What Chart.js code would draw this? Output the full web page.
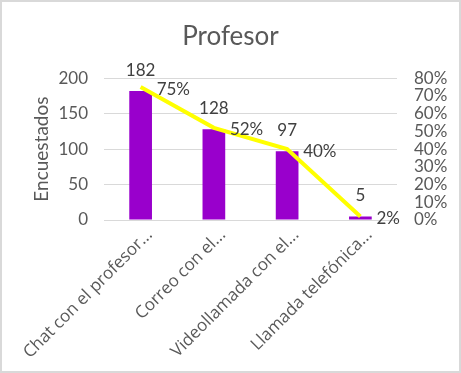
<!DOCTYPE html>
<html>
<head>
<meta charset="utf-8">
<script src="https://cdn.jsdelivr.net/npm/chart.js@4"></script>
<style>
  html, body { margin: 0; padding: 0; background: #fff; }
  #wrap { width: 461px; height: 373px; }
</style>
</head>
<body>
<div id="wrap"><canvas id="chart" width="461" height="373"></canvas></div>
<script>
// datos
const categorias = ["Chat con el profesor...", "Correo con el...", "Videollamada con el...", "Llamada telefónica..."];
const encuestados = [182, 128, 97, 5];
const porcentajes = [75, 52, 40, 2];

const FONT = "Lato, 'Open Sans', sans-serif";
const GRIS = "#595959";

// fondo blanco y borde del gráfico
const fondo = {
  id: "fondo",
  beforeDraw(chart) {
    const ctx = chart.ctx;
    ctx.save();
    ctx.fillStyle = "#fff";
    ctx.fillRect(0, 0, chart.width, chart.height);
    ctx.strokeStyle = "#d9d9d9";
    ctx.lineWidth = 2;
    ctx.strokeRect(1, 1, chart.width - 2, chart.height - 2);
    ctx.restore();
  },
};

// etiquetas de datos
const etiquetas = {
  id: "etiquetas",
  afterDatasetsDraw(chart) {
    const ctx = chart.ctx;
    ctx.save();
    ctx.font = "17px " + FONT;
    ctx.fillStyle = "#404040";
    chart.getDatasetMeta(1).data.forEach((bar, i) => {
      ctx.textAlign = "center";
      ctx.textBaseline = "bottom";
      ctx.fillText(encuestados[i], bar.x, bar.y - 12);
    });
    chart.getDatasetMeta(0).data.forEach((pt, i) => {
      ctx.textAlign = "left";
      ctx.textBaseline = "middle";
      ctx.fillText(porcentajes[i] + "%", pt.x + 16, pt.y + 2);
    });
    ctx.restore();
  },
};

new Chart(document.getElementById("chart"), {
  data: {
    labels: categorias,
    datasets: [
      {
        type: "line",
        label: "Porcentaje",
        data: porcentajes,
        yAxisID: "yPct",
        borderColor: "#ffff00",
        borderWidth: 4,
        pointRadius: 0,
        tension: 0,
        order: 0,
      },
      {
        type: "bar",
        label: "Encuestados",
        data: encuestados,
        yAxisID: "y",
        backgroundColor: "#9900cc",
        barPercentage: 0.31,
        categoryPercentage: 1,
        order: 1,
      },
    ],
  },
  options: {
    responsive: false,
    animation: false,
    layout: { padding: 0 },
    plugins: {
      legend: { display: false },
      tooltip: { enabled: false },
      title: {
        display: true,
        text: "Profesor",
        color: GRIS,
        font: { family: FONT, size: 26, weight: "normal" },
        padding: { top: 21, bottom: 26 },
      },
    },
    scales: {
      x: {
        grid: { display: false },
        border: { display: false },
        ticks: {
          color: GRIS,
          font: { family: "'Open Sans', sans-serif", size: 17 },
          maxRotation: 45,
          minRotation: 45,
          padding: -3,
          labelOffset: 9,
          autoSkip: false,
        },
        afterFit(scale) { scale.height = 153; },
      },
      y: {
        position: "left",
        min: 0,
        max: 200,
        ticks: { stepSize: 50, color: GRIS, font: { family: FONT, size: 17 }, padding: 16 },
        grid: { color: "#d9d9d9", drawTicks: false },
        border: { display: false },
        title: {
          display: true,
          text: "Encuestados",
          color: GRIS,
          font: { family: FONT, size: 19 },
          padding: { top: 30, bottom: 4 },
        },
        afterFit(scale) { scale.width = 104; },
      },
      yPct: {
        position: "right",
        min: 0,
        max: 80,
        ticks: {
          stepSize: 10,
          autoSkip: false,
          color: GRIS,
          font: { family: FONT, size: 17 },
          padding: 17,
          callback: (v) => v + "%",
        },
        grid: { drawOnChartArea: false, drawTicks: false },
        border: { display: false },
        afterFit(scale) { scale.width = 64; },
      },
    },
  },
  plugins: [fondo, etiquetas],
});
</script>
</body>
</html>
